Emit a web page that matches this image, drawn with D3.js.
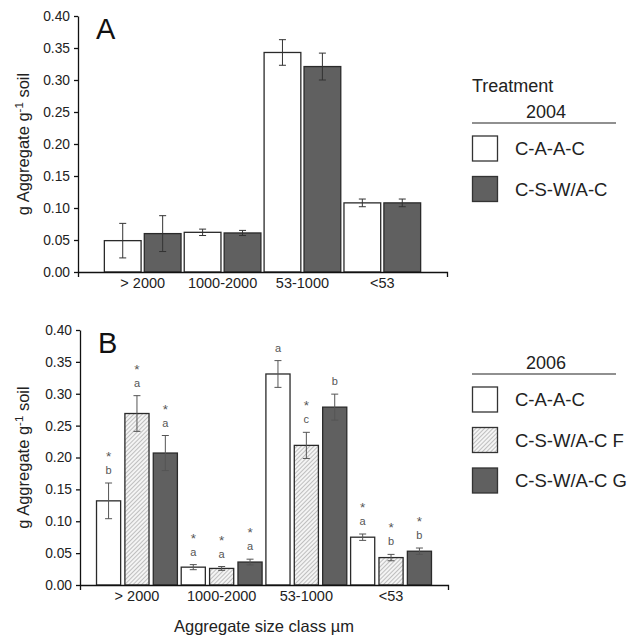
<!DOCTYPE html>
<html>
<head>
<meta charset="utf-8">
<script src="https://cdn.jsdelivr.net/npm/d3@7"></script>
<style>
body{margin:0;background:#fff;}
svg{font-family:"Liberation Sans",Arial,sans-serif;}
</style>
</head>
<body>
<div class="chart"></div>
<script>
// size classes
var classes=["> 2000","1000-2000","53-1000","<53"];
var yTicks=[0,0.05,0.10,0.15,0.20,0.25,0.30,0.35,0.40];

// panel A, 2004
var treatA=["C-A-A-C","C-S-W/A-C"];
var meanA=[[0.049,0.062,0.343,0.108],[0.060,0.061,0.321,0.108]];
var errA=[[0.027,0.005,0.020,0.006],[0.028,0.004,0.021,0.006]];

// panel B, 2006
var treatB=["C-A-A-C","C-S-W/A-C F","C-S-W/A-C G"];
var meanB=[[0.132,0.028,0.331,0.075],[0.269,0.026,0.219,0.043],[0.207,0.036,0.279,0.053]];
var errB=[[0.028,0.004,0.021,0.005],[0.028,0.003,0.0205,0.005],[0.0275,0.0045,0.0204,0.005]];
var letterB=[["b","a","a","a"],["a","a","c","b"],["a","a","b","b"]];
var starB=[[true,true,false,true],[true,true,true,true],[true,true,false,true]];

var width=634,height=637;
var svg=d3.select('div.chart').append('svg')
	.attr('width',width)
	.attr('height',height);

var defs=svg.append('defs');
var pat=defs.append('pattern')
	.attr('id','hatch')
	.attr('patternUnits','userSpaceOnUse')
	.attr('width',3).attr('height',3)
	.attr('patternTransform','rotate(45)');
pat.append('rect').attr('width',3).attr('height',3).attr('fill','#f4f4f4');
pat.append('line').attr('x1',0).attr('y1',0).attr('x2',0).attr('y2',3)
	.attr('stroke','#8a8a8a').attr('stroke-width',1);

var fills=['#ffffff','url(#hatch)','#606060'];
var fillsA=['#ffffff','#606060'];

function panel(opt){
	var x0=d3.scaleBand().domain(classes)
		.range([opt.left,opt.right])
		.paddingInner(opt.padIn).paddingOuter(opt.padOut);
	var x1=d3.scaleBand().domain(d3.range(opt.treat.length))
		.range([0,x0.bandwidth()])
		.paddingInner(opt.barPad);
	var y=d3.scaleLinear().domain([0,0.4]).range([opt.bottom,opt.top]);

	var g=svg.append('g');

	// bars
	opt.means.forEach(function(series,i){
		g.selectAll('rect.s'+i)
			.data(series)
			.enter()
			.append('rect')
			.attr('x',function(d,j){return x0(classes[j])+x1(i);})
			.attr('y',function(d){return y(d);})
			.attr('width',x1.bandwidth())
			.attr('height',function(d){return y(0)-y(d);})
			.attr('fill',opt.fills[i])
			.attr('stroke','#2a2a2a')
			.attr('stroke-width',1.3);
	});

	// error bars + letters
	opt.means.forEach(function(series,i){
		series.forEach(function(d,j){
			var cx=x0(classes[j])+x1(i)+x1.bandwidth()/2;
			var e=opt.errs[i][j];
			var eg=g.append('g').attr('stroke',opt.errColor).attr('stroke-width',1);
			eg.append('line').attr('x1',cx).attr('x2',cx).attr('y1',y(d+e)).attr('y2',y(d-e));
			eg.append('line').attr('x1',cx-3.5).attr('x2',cx+3.5).attr('y1',y(d+e)).attr('y2',y(d+e));
			eg.append('line').attr('x1',cx-3.5).attr('x2',cx+3.5).attr('y1',y(d-e)).attr('y2',y(d-e));
			if(opt.letters){
				var top=y(d+e);
				g.append('text')
					.attr('x',cx).attr('y',top-9)
					.attr('text-anchor','middle')
					.attr('font-size','11px')
					.attr('fill','#555')
					.text(opt.letters[i][j]);
				if(opt.stars[i][j]){
					g.append('text')
						.attr('x',cx).attr('y',top-22)
						.attr('text-anchor','middle')
						.attr('font-size','13.5px')
						.attr('fill','#555')
						.text('*');
				}
			}
		});
	});

	// axes
	var xa=g.append('g')
		.attr('transform','translate(0,'+opt.bottom+')')
		.call(d3.axisBottom(x0).tickSizeInner(0).tickSizeOuter(5).tickPadding(6));
	xa.selectAll('text').attr('font-size','14.5px').attr('fill','#222');
	xa.select('.domain').attr('stroke','#111').attr('stroke-width',1.3);

	var ya=g.append('g')
		.attr('transform','translate('+opt.left+',0)')
		.call(d3.axisLeft(y).tickValues(yTicks).tickFormat(d3.format('.2f'))
			.tickSize(4).tickSizeOuter(0).tickPadding(4));
	ya.selectAll('text').attr('font-size','13.8px').attr('fill','#222');
	ya.selectAll('line').attr('stroke','#111').attr('stroke-width',1.3);
	ya.select('.domain').attr('stroke','#111').attr('stroke-width',1.3);

	// y label
	var yl=g.append('text')
		.attr('transform','translate(29,'+((opt.top+opt.bottom)/2)+') rotate(-90)')
		.attr('text-anchor','middle')
		.attr('font-size','16.5px')
		.attr('fill','#222');
	yl.append('tspan').text('g Aggregate g');
	yl.append('tspan').attr('dy','-6').attr('font-size','11.5px').text('-1');
	yl.append('tspan').attr('dy','6').text(' soil');

	// panel letter
	g.append('text')
		.attr('x',opt.left+18).attr('y',opt.top+23)
		.attr('font-size','29px')
		.attr('fill','#111')
		.text(opt.name);

	// legend
	var lg=g.append('g');
	if(opt.legendTitle){
		lg.append('text').attr('x',472).attr('y',opt.legTop-31)
			.attr('font-size','18px').attr('fill','#222').text(opt.legendTitle);
	}
	lg.append('text').attr('x',546).attr('y',opt.legTop-5)
		.attr('text-anchor','middle')
		.attr('font-size','18px').attr('fill','#222').text(opt.year);
	lg.append('line').attr('x1',472).attr('x2',616)
		.attr('y1',opt.legTop).attr('y2',opt.legTop)
		.attr('stroke','#222').attr('stroke-width',1.2);
	opt.treat.forEach(function(t,i){
		var yy=opt.legTop+13+i*40.5;
		lg.append('rect').attr('x',472.5).attr('y',yy)
			.attr('width',25).attr('height',25)
			.attr('fill',opt.fills[i])
			.attr('stroke','#333').attr('stroke-width',1.3);
		lg.append('text').attr('x',515).attr('y',yy+19)
			.attr('font-size','18.5px').attr('fill','#222').text(t);
	});
	return g;
}

panel({name:'A',treat:treatA,means:meanA,errs:errA,fills:fillsA,
	left:78,right:447,top:16,bottom:272,padIn:0.04,padOut:0.33,barPad:0.08,
	errColor:'#333',legendTitle:'Treatment',year:'2004',legTop:123});

panel({name:'B',treat:treatB,means:meanB,errs:errB,fills:fills,
	letters:letterB,stars:starB,
	left:80,right:448,top:330,bottom:585,padIn:0.045,padOut:0.195,barPad:0.15,
	errColor:'#555',year:'2006',legTop:374});

svg.append('text')
	.attr('x',264).attr('y',632)
	.attr('text-anchor','middle')
	.attr('font-size','16.5px')
	.attr('fill','#222')
	.text('Aggregate size class µm');
</script>
</body>
</html>
